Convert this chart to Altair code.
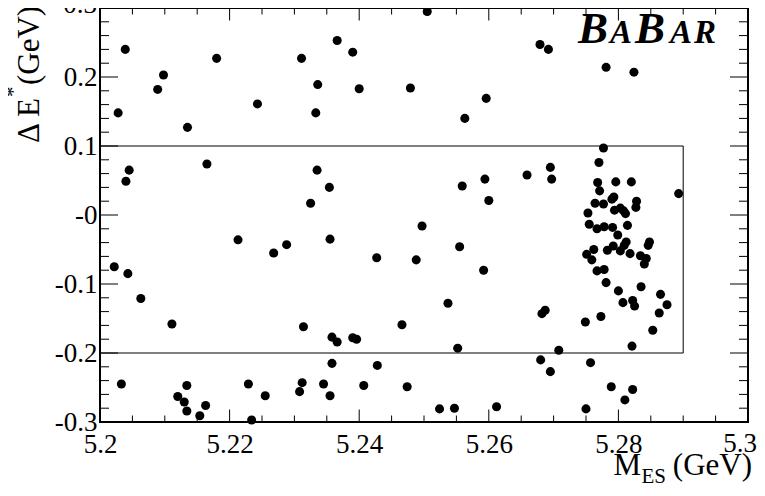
import altair as alt
import pandas as pd

# ---- data ----
mes = [
    5.2039, 5.2028, 5.2089, 5.2098, 5.2135, 5.2180, 5.2243, 5.2045, 5.2040, 5.2165,
    5.2505, 5.2366, 5.2390, 5.2311, 5.2336, 5.2400, 5.2479, 5.2333, 5.2596, 5.2563,
    5.2335, 5.2354, 5.2325, 5.2559, 5.2594, 5.2600,
    5.2679, 5.2692, 5.2781, 5.2824, 5.2777, 5.2770, 5.2659, 5.2695, 5.2697, 5.2768,
    5.2796, 5.2820, 5.2771, 5.2793, 5.2790, 5.2764, 5.2777, 5.2828, 5.2827, 5.2794,
    5.2803, 5.2808, 5.2893, 5.2753, 5.2811,
    5.2755, 5.2767, 5.2778, 5.2791, 5.2799, 5.2814, 5.2812, 5.2809, 5.2848, 5.2846,
    5.2762, 5.2751, 5.2759, 5.2783, 5.2792, 5.2803, 5.2818, 5.2834, 5.2843, 5.2840,
    5.2767, 5.2778, 5.2781, 5.2800, 5.2835, 5.2807, 5.2822, 5.2825, 5.2865, 5.2875,
    5.2863, 5.2853, 5.2682, 5.2687, 5.2749, 5.2773, 5.2821, 5.2708, 5.2680, 5.2695,
    5.2757, 5.2789, 5.2822, 5.2810, 5.2750,
    5.2022, 5.2043, 5.2063, 5.2111, 5.2213, 5.2033, 5.2134, 5.2120, 5.2130, 5.2134,
    5.2163, 5.2154, 5.2229, 5.2234,
    5.2268, 5.2288, 5.2355, 5.2427, 5.2488, 5.2497, 5.2555, 5.2592, 5.2537, 5.2314,
    5.2466, 5.2358, 5.2366, 5.2390, 5.2396, 5.2552, 5.2358, 5.2428, 5.2255, 5.2312,
    5.2308, 5.2345, 5.2355, 5.2407, 5.2474, 5.2524, 5.2547, 5.2612,
]
delta_e = [
    0.240, 0.148, 0.182, 0.203, 0.127, 0.227, 0.161, 0.065, 0.049, 0.074,
    0.295, 0.253, 0.236, 0.227, 0.189, 0.183, 0.184, 0.148, 0.169, 0.140,
    0.065, 0.040, 0.017, 0.042, 0.052, 0.021,
    0.247, 0.240, 0.214, 0.207, 0.097, 0.076, 0.058, 0.069, 0.052, 0.047,
    0.048, 0.048, 0.035, 0.026, 0.023, 0.017, 0.016, 0.020, 0.011, 0.007,
    0.010, 0.006, 0.031, 0.003, 0.002,
    -0.0135, -0.020, -0.017, -0.018, -0.029, -0.015, -0.039, -0.044, -0.039, -0.044,
    -0.050, -0.057, -0.065, -0.051, -0.045, -0.052, -0.056, -0.059, -0.063, -0.071,
    -0.081, -0.079, -0.098, -0.110, -0.104, -0.127, -0.124, -0.132, -0.115, -0.130,
    -0.142, -0.167, -0.143, -0.138, -0.155, -0.147, -0.190, -0.196, -0.210, -0.227,
    -0.214, -0.249, -0.253, -0.268, -0.281,
    -0.075, -0.085, -0.121, -0.158, -0.036, -0.245, -0.247, -0.263, -0.271, -0.284,
    -0.276, -0.291, -0.245, -0.297,
    -0.055, -0.043, -0.035, -0.062, -0.065, -0.016, -0.046, -0.080, -0.128, -0.162,
    -0.159, -0.177, -0.184, -0.178, -0.180, -0.193, -0.215, -0.218, -0.262, -0.243,
    -0.256, -0.245, -0.262, -0.247, -0.249, -0.281, -0.280, -0.278,
]

x_major = [5.2, 5.22, 5.24, 5.26, 5.28, 5.3]
x_minor = [5.205, 5.21, 5.215, 5.225, 5.23, 5.235, 5.245, 5.25, 5.255,
           5.265, 5.27, 5.275, 5.285, 5.29, 5.295]
y_major = [-0.3, -0.2, -0.1, 0.0, 0.1, 0.2, 0.3]
y_minor = [-0.28, -0.26, -0.24, -0.22, -0.18, -0.16, -0.14, -0.12, -0.08, -0.06,
           -0.04, -0.02, 0.02, 0.04, 0.06, 0.08, 0.12, 0.14, 0.16, 0.18, 0.22,
           0.24, 0.26, 0.28]
box_x = [5.2, 5.29]
box_y = [-0.2, 0.1]

W, H = 648, 414
FONT = "Liberation Serif"
LAB = 27

xs = alt.Scale(domain=[5.2, 5.3], nice=False, zero=False)
ys = alt.Scale(domain=[-0.3, 0.3], nice=False, zero=False)

pts = pd.DataFrame({"mes": mes, "de": delta_e})

y_lab_expr = ("abs(datum.value) < 1e-9 ? '-0' : "
              "replace(format(datum.value, '.1f'), '\u2212', '-')")

# the two edge labels (5.3 and 0.3) are drawn as texts so they stay inside the page
points = alt.Chart(pts).mark_circle(color="black", opacity=1, size=82).encode(
    x=alt.X("mes:Q", scale=xs, axis=alt.Axis(
        values=x_major[:-1], format=".2~f", title=None, ticks=False,
        domain=False, grid=False, labelFont=FONT, labelFontSize=LAB,
        labelColor="black", labelPadding=9, labelFlush=False, labelOverlap=False)),
    y=alt.Y("de:Q", scale=ys, axis=alt.Axis(
        values=y_major[:-1], labelExpr=y_lab_expr, title=None, ticks=False,
        domain=False, grid=False, labelFont=FONT, labelFontSize=LAB,
        labelColor="black", labelPadding=3, labelFlush=False, labelOverlap=False)),
)

box = alt.Chart(pd.DataFrame({"x1": [box_x[0]], "x2": [box_x[1]],
                              "y1": [box_y[0]], "y2": [box_y[1]]})).mark_rect(
    fill=None, stroke="black", strokeWidth=1).encode(
    x=alt.X("x1:Q", scale=xs), x2="x2:Q",
    y=alt.Y("y1:Q", scale=ys), y2="y2:Q")


def xticks(vals, y0, y1):
    return alt.Chart(pd.DataFrame({"v": vals})).mark_rule(
        color="black", strokeWidth=1).encode(
        x=alt.X("v:Q", scale=xs), y=alt.value(y0), y2=alt.value(y1))


def yticks(vals, x0, x1):
    return alt.Chart(pd.DataFrame({"v": vals})).mark_rule(
        color="black", strokeWidth=1).encode(
        y=alt.Y("v:Q", scale=ys), x=alt.value(x0), x2=alt.value(x1))


ticks = [
    xticks(x_major, H, H - 12.5), xticks(x_minor, H, H - 6.5),
    xticks(x_major, 0, 12.5), xticks(x_minor, 0, 6.5),
    yticks(y_major, 0, 18), yticks(y_minor, 0, 9),
    yticks(y_major, W, W - 18), yticks(y_minor, W, W - 9),
]

one = pd.DataFrame({"a": [0]})


def txt(s, x, y, size, align="left", angle=0, style="normal", weight="normal",
        baseline="alphabetic"):
    return alt.Chart(one).mark_text(
        text=s, align=align, baseline=baseline, angle=angle, font=FONT,
        fontSize=size, fontStyle=style, fontWeight=weight, color="black").encode(
        x=alt.value(x), y=alt.value(y))


texts = [
    # edge tick labels
    txt("0.3", -3, -3, LAB, align="right", baseline="middle"),
    txt("5.3", 657, H + 9, LAB, align="right", baseline="top"),
    # y title
    txt("Δ E", -61, 135, 31, angle=270),
    txt("*", -80, 89, 21, angle=270),
    txt("(GeV)", -61, 77, 31, angle=270),
    # x title
    txt("M", 541, 467, 31, align="right"),
    txt("ES", 566, 475, 21, align="right"),
    txt("(GeV)", 652, 467, 31, align="right"),
    # logo
    txt("B", 478, 35, 45, style="italic", weight="bold"),
    txt("A", 510, 35, 33, style="italic", weight="bold"),
    txt("B", 535, 35, 45, style="italic", weight="bold"),
    txt("A", 570, 35, 33, style="italic", weight="bold"),
    txt("R", 594, 35, 33, style="italic", weight="bold"),
]

chart = alt.layer(points, box, *ticks, *texts).properties(
    width=W, height=H,
    autosize=alt.AutoSizeParams(type="none"),
    padding={"left": 92, "top": 0, "right": 9, "bottom": 64},
    background="white",
).configure_view(stroke="black", strokeWidth=2)

chart.save("out.html", embed_options={"renderer": "svg", "actions": False})
